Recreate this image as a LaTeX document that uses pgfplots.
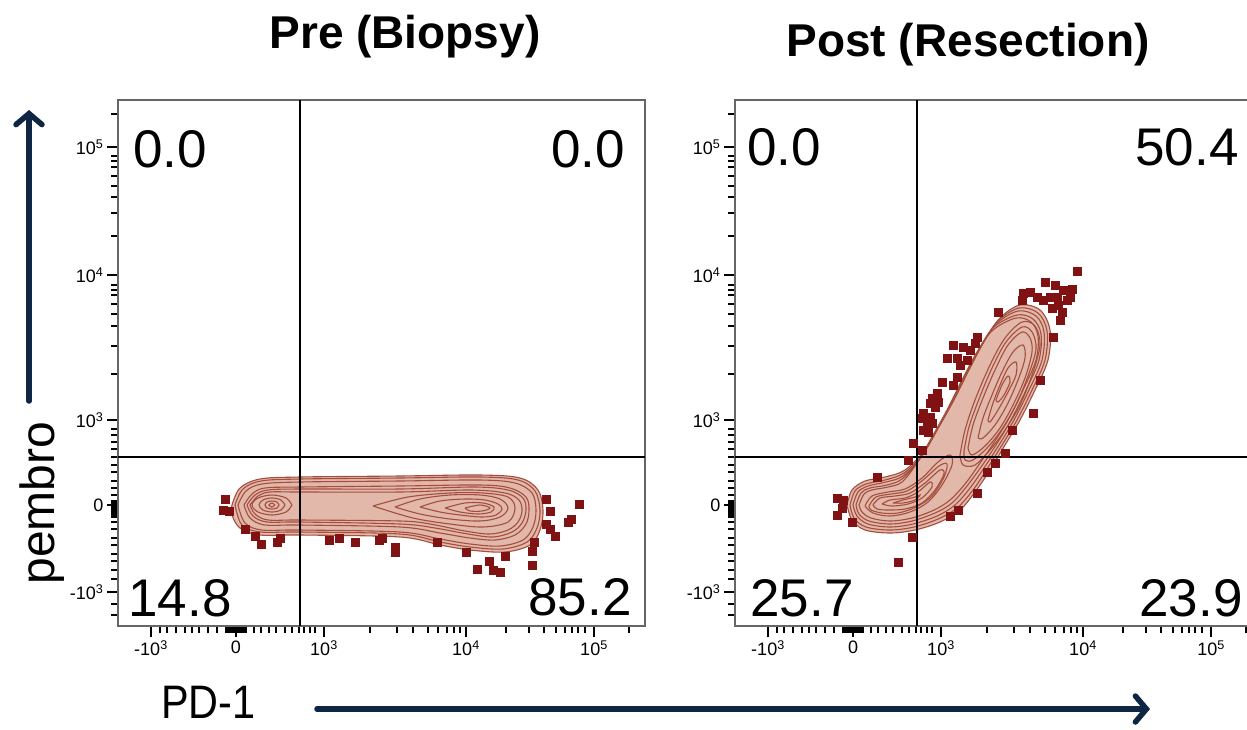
\documentclass[border=0pt]{standalone}
\usepackage{fontspec}
\setmainfont{Liberation Sans}
\newfontfamily\narrowfont[FakeStretch=0.88]{Liberation Sans}
\usepackage{pgfplots}
\pgfplotsset{compat=1.18}
\usetikzlibrary{arrows.meta}

\definecolor{cline}{RGB}{164,78,62}
\definecolor{cfill}{RGB}{226,184,170}
\definecolor{outl}{RGB}{128,18,20}
\definecolor{navy}{RGB}{14,38,68}

\pgfplotsset{
  flow/.style={
    scale only axis, width=527pt, height=526pt, anchor=south west,
    xmin=0, xmax=527, ymin=0, ymax=526,
    tick pos=left, tick align=outside,
    xtick={33,118,206,348,476},
    xticklabels={-10\textsuperscript{3},0,10\textsuperscript{3},10\textsuperscript{4},10\textsuperscript{5}},
    ytick={34,121,206,351,479},
    yticklabels={-10\textsuperscript{3},0,10\textsuperscript{3},10\textsuperscript{4},10\textsuperscript{5}},
    minor xtick={42,49,58,67,74,81,90,99,108,110,112,114,116,120,122,124,126,128,136,143,151,158,167,174,181,186,192,197,252,279,295,310,320,329,336,342,388,411,426,438,447,454,460,467,511},
    minor ytick={11,22,47,56,65,72,81,88,97,104,109,111,113,115,117,119,123,125,131,138,145,154,161,169,177,184,191,197,252,280,300,312,322,331,336,341,390,413,429,440,450,459,465,470,512},
    major tick length=11pt, minor tick length=7pt,
    major tick style={line width=2.6pt, black},
    minor tick style={line width=1.5pt, black},
    axis line style={draw=black!60, line width=1.4pt},
    tick label style={font=\fontsize{18}{18}\selectfont},
  },
  cont/.style={draw=cline, line width=1.1pt, smooth, tension=0.55, no markers},
  pts/.style={only marks, mark=square*, mark size=3.8pt, mark options={draw=outl, fill=outl}},
  gate/.style={black, line width=2.8pt, no markers},
}

\begin{document}
\begin{tikzpicture}
\path[use as bounding box] (0pt,0pt) rectangle (1247pt,-729pt);

% Pre (Biopsy)
\begin{axis}[flow, at={(118pt,-626pt)}]
\addplot[cont, fill=cfill] coordinates {(114,121) (122,138) (142,147) (182,149) (282,150) (362,151) (402,148) (420,136) (425,116) (422,96) (412,81) (387,74) (352,76) (322,81) (282,89) (182,91) (142,91) (122,98) (114,111) (114,121)};
\addplot[cont] coordinates {(117,121) (125,137) (143,145) (182,147) (282,148) (362,149) (400,146) (417,135) (422,116) (419,98) (409,84) (385,77) (352,79) (322,84) (282,92) (182,94) (143,94) (124,101) (117,121)};
\addplot[cont] coordinates {(120,121) (128,135) (144,142) (182,144) (282,145) (362,146) (397,143) (414,133) (418,116) (415,99) (405,86) (382,80) (352,82) (322,87) (282,94) (182,96) (144,96) (127,103) (120,121)};
\addplot[cont] coordinates {(126,121) (134,132) (147,138) (182,139) (282,140) (362,141) (392,138) (408,129) (411,116) (408,102) (397,91) (377,86) (352,88) (322,93) (282,99) (182,101) (147,101) (132,108) (126,121)};
\addplot[cont] coordinates {(129,121) (137,131) (150,136) (182,137) (282,137) (357,139) (390,136) (405,128) (408,116) (404,103) (394,94) (375,89) (350,92) (317,98) (282,102) (182,104) (149,104) (135,110) (129,121)};
\addplot[cont] coordinates {(132,121) (140,130) (152,134) (182,134) (282,134) (352,136) (387,133) (401,126) (404,115) (400,104) (390,96) (372,92) (347,95) (312,102) (282,105) (182,106) (150,106) (137,112) (132,121)};
\addplot[cont] coordinates {(174,121) (168,128) (154,131) (140,128) (134,121) (140,114) (154,111) (168,114) (174,121)};
\addplot[cont] coordinates {(167,121) (163,126) (154,128) (145,126) (141,121) (145,116) (154,114) (163,116) (167,121)};
\addplot[cont] coordinates {(161,121) (159,124) (154,125) (149,124) (147,121) (149,118) (154,117) (159,118) (161,121)};
\addplot[cont] coordinates {(157,121) (154,123) (151,121) (154,119) (157,121)};
\addplot[cont] coordinates {(255,120) (290,129) (332,133) (365,133) (390,129) (397,118) (390,104) (365,99) (332,102) (295,108) (255,120)};
\addplot[cont] coordinates {(277,119) (302,127) (332,131) (362,131) (382,127) (390,118) (382,109) (362,105) (332,107) (302,112) (277,119)};
\addplot[cont] coordinates {(302,119) (322,125) (347,127) (367,126) (380,122) (384,117) (378,111) (364,109) (342,111) (322,114) (302,119)};
\addplot[cont] coordinates {(327,118) (347,123) (365,123) (376,119) (373,114) (360,112) (342,114) (327,118)};
\addplot[cont] coordinates {(347,118) (362,121) (372,118) (364,115) (352,115) (347,118)};
\addplot[pts] coordinates {
(107,127) (105,116) (111,115) (127,97) (137,90) (143,82) (159,84) (162,88)
(211,86) (221,88) (237,84) (261,86) (264,88) (277,79) (277,74) (319,84)
(348,74) (359,57) (371,65) (375,56) (382,54) (387,70) (414,75) (414,61)
(416,84) (428,127) (432,115) (428,102) (432,97) (437,90) (453,107) (450,104) (461,122)};
\addplot[gate] coordinates {(182,0) (182,526)};
\addplot[gate] coordinates {(0,169) (527,169)};
\end{axis}

% Post (Resection)
\begin{axis}[flow, at={(735pt,-626pt)}]
\addplot[cont, fill=cfill] coordinates {(112,121) (117,136) (130,145) (150,149) (170,156) (190,176) (205,201) (220,228) (235,258) (250,286) (265,308) (285,321) (305,316) (315,296) (313,266) (300,236) (285,206) (270,181) (255,156) (240,134) (225,116) (205,104) (180,96) (155,93) (130,96) (117,106) (112,121)};
\addplot[cont] coordinates {(115,121) (120,135) (131,142) (150,146) (169,153) (188,172) (203,198) (218,225) (233,255) (248,283) (263,305) (284,318) (303,313) (312,295) (310,266) (297,236) (282,206) (267,181) (252,157) (238,136) (222,118) (203,107) (179,99) (155,96) (131,99) (119,108) (115,121)};
\addplot[cont] coordinates {(118,121) (123,134) (133,140) (151,144) (168,150) (186,169) (201,195) (216,222) (231,252) (246,280) (261,302) (283,315) (301,310) (309,294) (307,266) (294,236) (279,206) (264,181) (249,158) (235,138) (220,121) (202,110) (178,102) (155,99) (133,102) (122,110) (118,121)};
\addplot[cont] coordinates {(121,121) (126,133) (135,138) (152,141) (167,147) (184,166) (199,192) (214,219) (229,249) (244,277) (259,299) (282,311) (298,307) (306,292) (304,266) (291,236) (276,206) (261,181) (246,159) (232,140) (217,123) (200,113) (177,105) (155,102) (134,105) (124,112) (121,121)};
\addplot[cont] coordinates {(124,121) (129,132) (137,136) (153,139) (167,144) (182,163) (197,189) (212,216) (227,246) (242,274) (258,296) (281,308) (296,304) (303,290) (301,266) (288,236) (273,206) (258,182) (243,160) (230,142) (215,126) (199,116) (177,108) (155,105) (136,108) (127,114) (124,121)};
\addplot[cont] coordinates {(130,120) (137,130) (153,134) (170,137) (187,148) (203,164) (215,171) (217,161) (207,141) (193,124) (175,114) (155,110) (138,113) (130,120)};
\addplot[cont] coordinates {(134,120) (141,129) (156,132) (172,135) (188,146) (204,160) (212,162) (209,149) (197,130) (181,119) (163,113) (147,113) (136,116) (134,120)};
\addplot[cont] coordinates {(138,121) (145,128) (160,130) (175,133) (190,143) (205,156) (209,152) (200,136) (187,123) (170,117) (153,116) (142,117) (138,121)};
\addplot[cont] coordinates {(147,122) (155,126) (170,128) (183,134) (195,144) (197,139) (187,128) (173,122) (157,120) (147,122)};
\addplot[cont] coordinates {(158,123) (168,126) (180,129) (185,131) (180,126) (168,123) (158,123)};
\addplot[cont] coordinates {(225,171) (230,196) (240,226) (255,261) (270,288) (287,304) (300,300) (305,281) (297,251) (285,221) (270,196) (255,176) (240,161) (228,161) (225,171)};
\addplot[cont] coordinates {(229,175) (234,199) (244,227) (257,258) (271,284) (287,299) (297,294) (301,277) (293,250) (281,221) (267,197) (252,178) (238,166) (230,166) (229,175)};
\addplot[cont] coordinates {(233,178) (238,201) (248,228) (260,256) (273,281) (287,294) (295,288) (297,274) (290,248) (278,221) (265,198) (250,180) (237,171) (233,178)};
\addplot[cont] coordinates {(243,188) (248,208) (257,231) (267,254) (278,274) (288,281) (290,268) (283,246) (272,221) (260,201) (248,188) (243,188)};
\addplot[cont] coordinates {(253,206) (258,223) (265,241) (273,258) (281,264) (281,251) (273,234) (263,216) (255,204) (253,206)};
\addplot[cont] coordinates {(261,226) (267,241) (273,250) (275,244) (269,231) (263,224) (261,226)};
\addplot[pts] coordinates {
(342,355) (310,344) (320,341) (328,336) (337,337) (288,333) (295,334) (302,329)
(287,326) (308,326) (315,329) (322,329) (332,326) (323,321) (317,318) (327,314)
(335,329) (325,306) (318,289) (263,314) (305,246) (298,213) (277,196) (270,173)
(260,163) (252,154) (242,133) (223,116) (215,110)
(218,281) (228,279) (242,289) (240,283) (235,276) (212,268) (222,268) (232,266)
(225,261) (222,249) (218,241) (207,244) (202,233) (197,228) (203,224) (200,219)
(195,223) (188,213) (195,209) (187,208) (192,203) (197,203) (188,196) (193,194)
(178,183) (187,176) (173,166) (142,149) (102,128) (108,126) (107,118) (102,111)
(117,104) (177,89) (163,64)};
\addplot[gate] coordinates {(182,0) (182,526)};
\addplot[gate] coordinates {(0,169) (527,169)};
\end{axis}

% titles and quadrant values
\node[anchor=base, font=\bfseries\fontsize{46}{48}\selectfont] at (405pt,-48pt) {Pre (Biopsy)};
\node[anchor=base, font=\bfseries\fontsize{46}{48}\selectfont] at (968pt,-56pt) {Post (Resection)};
\begin{scope}[every node/.style={font=\fontsize{53}{56}\selectfont}]
\node at (170pt,-149pt) {0.0};
\node at (588pt,-149pt) {0.0};
\node at (180pt,-598pt) {14.8};
\node at (580pt,-597pt) {85.2};
\node at (784pt,-147pt) {0.0};
\node at (1187pt,-147pt) {50.4};
\node at (802pt,-598pt) {25.7};
\node at (1191pt,-598pt) {23.9};
\end{scope}

% axis captions with arrows
\node[anchor=base, rotate=90, inner sep=0pt, font=\fontsize{48}{50}\selectfont] at (54pt,-503pt) {pembro};
\node[anchor=base west, inner sep=0pt, font=\narrowfont\fontsize{47}{49}\selectfont] at (161pt,-718pt) {PD-1};
\draw[navy, line width=5.5pt, line cap=round, -{Straight Barb[length=11pt, width=26pt, line cap=round]}] (29pt,-401pt) -- (29pt,-110pt);
\draw[navy, line width=5.5pt, line cap=round, -{Straight Barb[length=11pt, width=26pt, line cap=round]}] (317pt,-709pt) -- (1150pt,-709pt);
\end{tikzpicture}
\end{document}
